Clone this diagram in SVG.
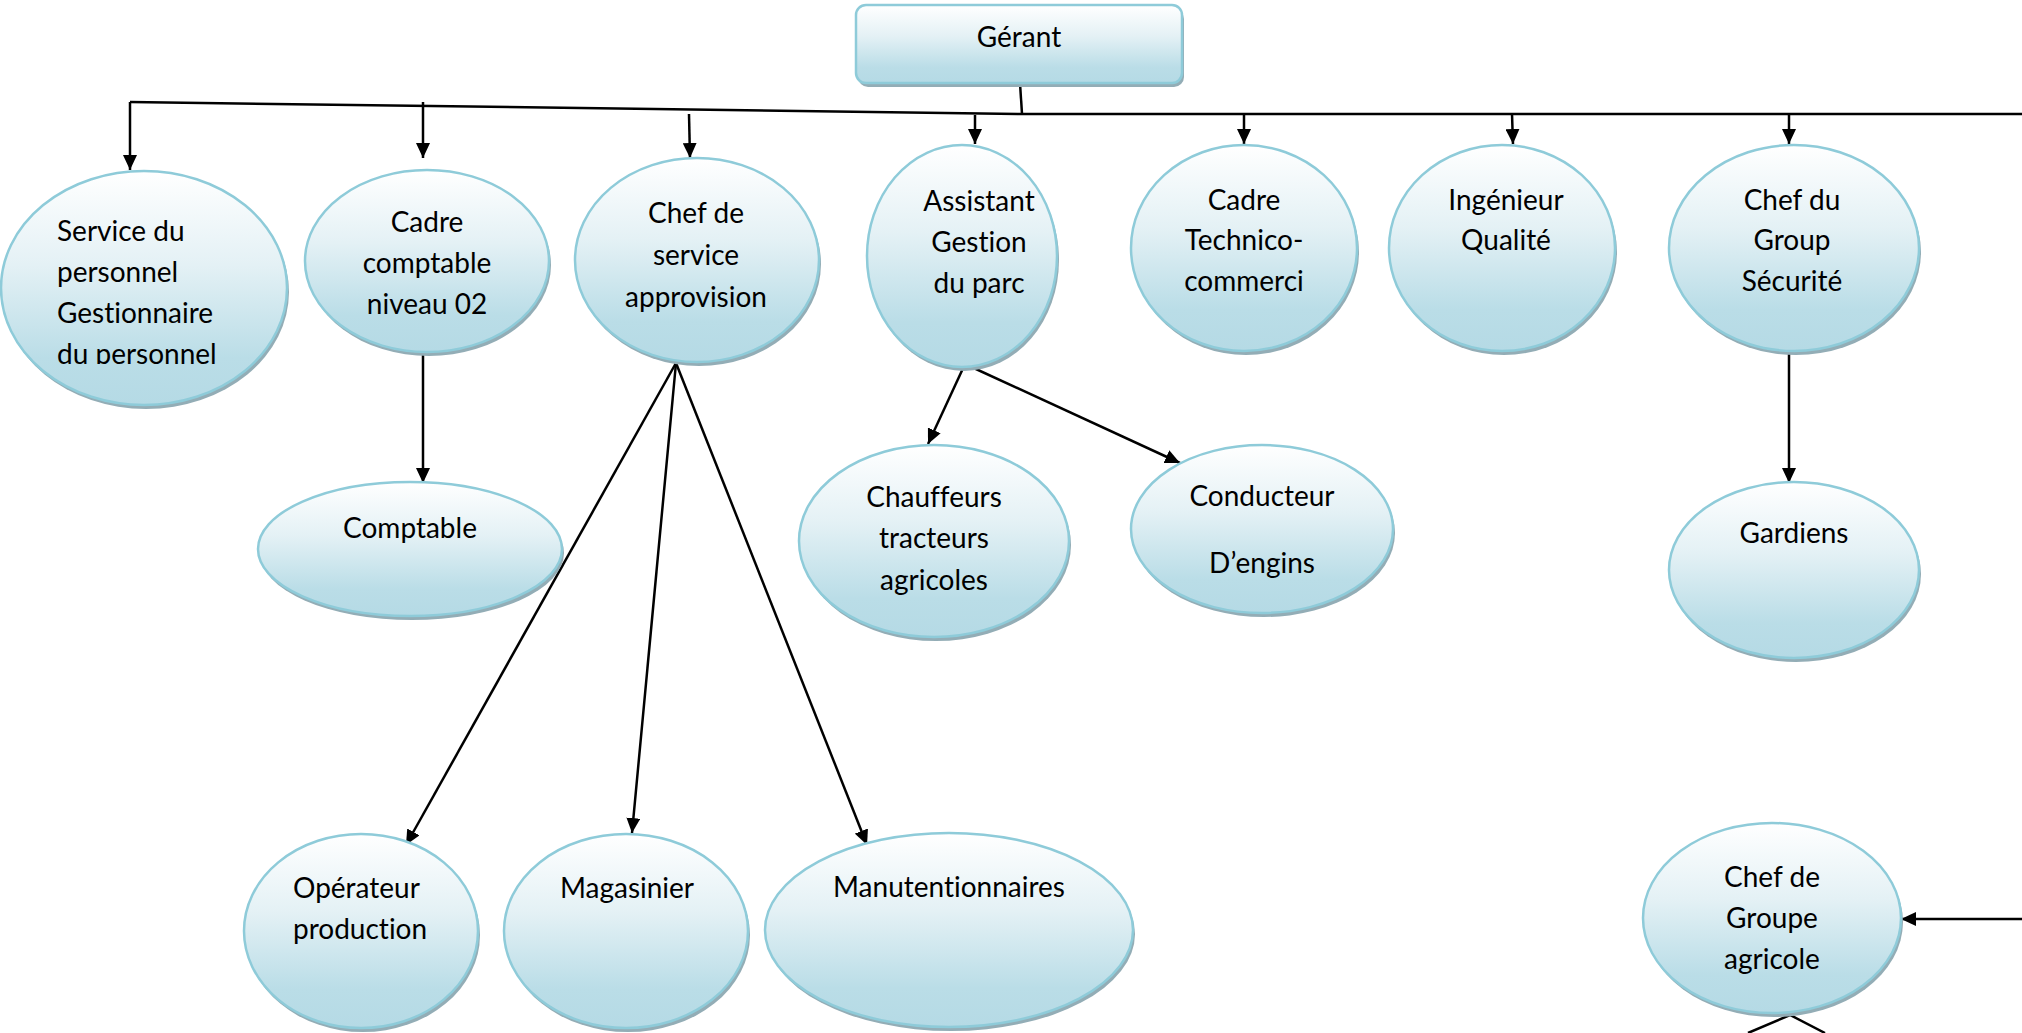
<svg xmlns="http://www.w3.org/2000/svg" width="2022" height="1033" viewBox="0 0 2022 1033">
<defs>
  <linearGradient id="g" x1="0" y1="0" x2="0" y2="1">
    <stop offset="0" stop-color="#ffffff"/>
    <stop offset="0.4" stop-color="#e4f1f5"/>
    <stop offset="0.8" stop-color="#badde7"/>
    <stop offset="1" stop-color="#b5dae5"/>
  </linearGradient>
  <marker id="ah" markerUnits="userSpaceOnUse" markerWidth="16" markerHeight="14" refX="15" refY="7" orient="auto">
    <path d="M0,0 L15,7 L0,14 Z" fill="#000"/>
  </marker>
  <clipPath id="clipSP">
    <rect x="0" y="150" width="300" height="214"/>
  </clipPath>
</defs>
<style>
  .sh { fill: #93adb6; }
  .nd { fill: url(#g); stroke: #8ecbd9; stroke-width: 2.5; }
  .t { font-family: Lato, "Open Sans", sans-serif; font-size: 28px; fill: #000; text-anchor: middle; font-variant-ligatures: none; font-feature-settings: "liga" 0, "dlig" 0; }
  .tl { font-family: Lato, "Open Sans", sans-serif; font-size: 28px; fill: #000; text-anchor: start; font-variant-ligatures: none; font-feature-settings: "liga" 0, "dlig" 0; }
  .c { fill: none; stroke: #000; stroke-width: 2.5; }
  .ca { fill: none; stroke: #000; stroke-width: 2.5; marker-end: url(#ah); }
</style>

<g id="connectors">
  <path class="c" d="M130,102 L1022,114 L2022,114"/>
  <path class="c" d="M1020,83 L1022,114" stroke-width="2"/>
  <path class="ca" d="M130,102 V170"/>
  <path class="ca" d="M423,102 V158"/>
  <path class="ca" d="M689,114 L690,158"/>
  <path class="ca" d="M975,115 V144"/>
  <path class="ca" d="M1244,114 V144"/>
  <path class="ca" d="M1512,114 L1513,144"/>
  <path class="ca" d="M1789,114 V144"/>
  <path class="ca" d="M423,352 V483"/>
  <path class="ca" d="M676,363 L406,845"/>
  <path class="ca" d="M676,363 L632,833"/>
  <path class="ca" d="M676,363 L867,845"/>
  <path class="ca" d="M965,364 L928,444"/>
  <path class="ca" d="M965,364 L1180,463"/>
  <path class="ca" d="M1789,351 V483"/>
  <path class="ca" d="M2022,919 L1901,919"/>
  <path class="c" d="M1748,1033 L1790,1015 L1825,1033"/>
</g>

<g id="gerant">
  <rect class="sh" x="858" y="9" width="326" height="78" rx="10"/>
  <rect class="nd" x="856" y="5" width="326" height="78" rx="10"/>
  <text class="t" x="1019" y="47">Gérant</text>
</g>

<g id="service-personnel">
  <ellipse class="sh" cx="146" cy="292" rx="143" ry="117"/>
  <ellipse class="nd" cx="144" cy="288" rx="143" ry="117"/>
  <g clip-path="url(#clipSP)">
    <text class="tl" x="57" y="241">Service du</text>
    <text class="tl" x="57" y="282">personnel</text>
    <text class="tl" x="57" y="323">Gestionnaire</text>
    <text class="tl" x="57" y="364">du personnel</text>
  </g>
</g>

<g id="cadre-comptable">
  <ellipse class="sh" cx="429" cy="265" rx="122" ry="91"/>
  <ellipse class="nd" cx="427" cy="261" rx="122" ry="91"/>
  <text class="t" x="427" y="232">Cadre</text>
  <text class="t" x="427" y="273">comptable</text>
  <text class="t" x="427" y="314">niveau 02</text>
</g>

<g id="chef-service-approvision">
  <ellipse class="sh" cx="699" cy="264" rx="122" ry="102"/>
  <ellipse class="nd" cx="697" cy="260" rx="122" ry="102"/>
  <text class="t" x="696" y="223">Chef de</text>
  <text class="t" x="696" y="265">service</text>
  <text class="t" x="696" y="307">approvision</text>
</g>

<g id="assistant-gestion-parc">
  <ellipse class="sh" cx="964" cy="260" rx="95" ry="111"/>
  <ellipse class="nd" cx="962" cy="256" rx="95" ry="111"/>
  <text class="t" x="979" y="211">Assistant</text>
  <text class="t" x="979" y="252">Gestion</text>
  <text class="t" x="979" y="293">du parc</text>
</g>

<g id="cadre-technico">
  <ellipse class="sh" cx="1246" cy="252" rx="113" ry="103"/>
  <ellipse class="nd" cx="1244" cy="248" rx="113" ry="103"/>
  <text class="t" x="1244" y="210">Cadre</text>
  <text class="t" x="1244" y="250">Technico-</text>
  <text class="t" x="1244" y="291">commerci</text>
</g>

<g id="ingenieur-qualite">
  <ellipse class="sh" cx="1504" cy="252" rx="113" ry="103"/>
  <ellipse class="nd" cx="1502" cy="248" rx="113" ry="103"/>
  <text class="t" x="1506" y="210">Ingénieur</text>
  <text class="t" x="1506" y="250">Qualité</text>
</g>

<g id="chef-group-securite">
  <ellipse class="sh" cx="1796" cy="252" rx="125" ry="103"/>
  <ellipse class="nd" cx="1794" cy="248" rx="125" ry="103"/>
  <text class="t" x="1792" y="210">Chef du</text>
  <text class="t" x="1792" y="250">Group</text>
  <text class="t" x="1792" y="291">Sécurité</text>
</g>

<g id="comptable">
  <ellipse class="sh" cx="412" cy="553" rx="152" ry="67"/>
  <ellipse class="nd" cx="410" cy="549" rx="152" ry="67"/>
  <text class="t" x="410" y="538">Comptable</text>
</g>

<g id="chauffeurs">
  <ellipse class="sh" cx="936" cy="545" rx="135" ry="96"/>
  <ellipse class="nd" cx="934" cy="541" rx="135" ry="96"/>
  <text class="t" x="934" y="507">Chauffeurs</text>
  <text class="t" x="934" y="548">tracteurs</text>
  <text class="t" x="934" y="590">agricoles</text>
</g>

<g id="conducteur-engins">
  <ellipse class="sh" cx="1264" cy="533" rx="131" ry="84"/>
  <ellipse class="nd" cx="1262" cy="529" rx="131" ry="84"/>
  <text class="t" x="1262" y="506">Conducteur</text>
  <text class="t" x="1262" y="573">D’engins</text>
</g>

<g id="gardiens">
  <ellipse class="sh" cx="1796" cy="574" rx="125" ry="88"/>
  <ellipse class="nd" cx="1794" cy="570" rx="125" ry="88"/>
  <text class="t" x="1794" y="543">Gardiens</text>
</g>

<g id="operateur-production">
  <ellipse class="sh" cx="363" cy="935" rx="117" ry="97"/>
  <ellipse class="nd" cx="361" cy="931" rx="117" ry="97"/>
  <text class="tl" x="293" y="898">Opérateur</text>
  <text class="tl" x="293" y="939">production</text>
</g>

<g id="magasinier">
  <ellipse class="sh" cx="628" cy="935" rx="122" ry="97"/>
  <ellipse class="nd" cx="626" cy="931" rx="122" ry="97"/>
  <text class="t" x="627" y="898">Magasinier</text>
</g>

<g id="manutentionnaires">
  <ellipse class="sh" cx="951" cy="934" rx="184" ry="97"/>
  <ellipse class="nd" cx="949" cy="930" rx="184" ry="97"/>
  <text class="t" x="949" y="897">Manutentionnaires</text>
</g>

<g id="chef-groupe-agricole">
  <ellipse class="sh" cx="1774" cy="922" rx="129" ry="95"/>
  <ellipse class="nd" cx="1772" cy="918" rx="129" ry="95"/>
  <text class="t" x="1772" y="887">Chef de</text>
  <text class="t" x="1772" y="928">Groupe</text>
  <text class="t" x="1772" y="969">agricole</text>
</g>
</svg>
